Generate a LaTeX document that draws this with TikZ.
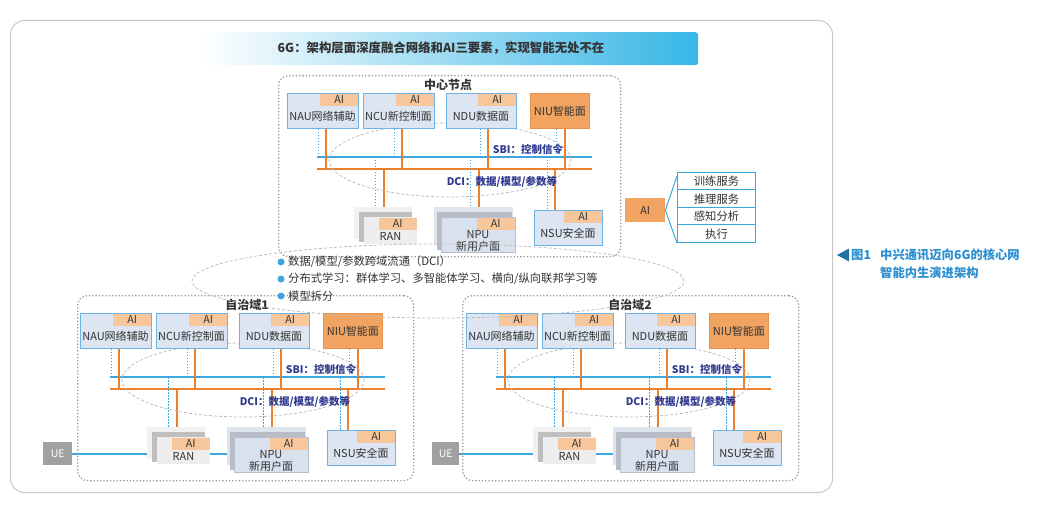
\documentclass[tikz,border=0pt]{standalone}
\usepackage{fontspec}
\setmainfont{Noto Sans CJK SC}
\usetikzlibrary{shapes.geometric}
\definecolor{boxfill}{HTML}{DCE5F1}
\definecolor{boxline}{HTML}{6DB3E3}
\definecolor{tagfill}{HTML}{F7C79B}
\definecolor{niufill}{HTML}{F1A461}
\definecolor{niuline}{HTML}{E8914A}
\definecolor{sbiblue}{HTML}{3CA7DF}
\definecolor{dciorange}{HTML}{E8802F}
\definecolor{navy}{HTML}{2F3A8F}
\definecolor{dotgray}{HTML}{9A9A9A}
\definecolor{ellgray}{HTML}{BDBDBD}
\definecolor{txt}{HTML}{333333}
\definecolor{capblue}{HTML}{2C8FCF}
\definecolor{bannerblue}{HTML}{38B6E6}
\definecolor{bannermid}{HTML}{CDEAF8}
\definecolor{framegray}{HTML}{C8C8C8}
\definecolor{ranback}{HTML}{F1F1F1}
\definecolor{ranmid}{HTML}{BFBFBF}
\definecolor{ranfront}{HTML}{EEEEEE}
\definecolor{npuback}{HTML}{DFE5EE}
\definecolor{npumid}{HTML}{B7BCC6}
\definecolor{npufront}{HTML}{D9E1EE}
\definecolor{uegray}{HTML}{A0A0A0}
\pgfdeclarelayer{bg}
\pgfsetlayers{bg,main}
\tikzset{
  box/.style={draw=boxline, fill=boxfill, line width=0.9pt, inner sep=0pt},
  ranfrontbox/.style={fill=ranfront, inner sep=0pt},
  ranbackbox/.style={fill=ranback, inner sep=0pt},
  ranmidbox/.style={fill=ranmid, inner sep=0pt},
  npufrontbox/.style={fill=npufront, draw=npufront!85!black, line width=0.4pt, inner sep=0pt},
  npubackbox/.style={fill=npuback, inner sep=0pt},
  npumidbox/.style={fill=npumid, inner sep=0pt},
  tag/.style={fill=tagfill, minimum width=38pt, minimum height=12pt, inner sep=0pt, font=\fontsize{10.8}{10.8}\selectfont, text=txt},
  niubox/.style={draw=niuline, fill=niufill, line width=0.8pt, inner sep=0pt, font=\fontsize{11}{12}\selectfont, text=txt},
  boxtxt/.style={font=\fontsize{11}{12}\selectfont, text=txt, inner sep=0pt, align=center},
  sbi/.style={draw=sbiblue, line width=2pt},
  dci/.style={draw=dciorange, line width=2.8pt},
  dashv/.style={draw=sbiblue, line width=0.9pt, dash pattern=on 1.5pt off 1.5pt},
  orv/.style={draw=dciorange, line width=1.5pt},
  ellip/.style={ellipse, draw=ellgray, line width=0.8pt, dash pattern=on 3pt off 2pt, inner sep=0pt},
  dotbox/.style={draw=dotgray, line width=1.3pt, dash pattern=on 1.3pt off 2pt, rounded corners=10pt, inner sep=0pt},
  buslabel/.style={font=\bfseries\fontsize{10.5}{12}\selectfont, text=navy, inner sep=0pt},
  dlabel/.style={font=\bfseries\fontsize{12}{14}\selectfont, text=txt, inner sep=0pt},
  ue/.style={fill=uegray, text=white, font=\fontsize{10.5}{12}\selectfont, inner sep=0pt},
  uel/.style={draw=sbiblue, line width=1.6pt},
  listbox/.style={draw=sbiblue, fill=white, line width=1pt, inner sep=0pt, font=\fontsize{11.3}{12}\selectfont, text=txt},
  aibig/.style={fill=niufill, inner sep=0pt, font=\fontsize{10.8}{12}\selectfont, text=txt},
  fan/.style={draw=sbiblue, line width=1pt},
  bultxt/.style={font=\fontsize{11.3}{13}\selectfont, text=txt, inner sep=0pt},
  buldot/.style={circle, fill=sbiblue, minimum size=7pt, inner sep=0pt},
  captxt/.style={font=\bfseries\fontsize{12.3}{14}\selectfont, text=capblue, inner sep=0pt},
}
% box with AI tag and text
\newcommand\mkbox[7]{%
  \node[#2, anchor=north west, minimum width=#5pt, minimum height=#6pt] (#1) at (#3,#4) {};
  \node[tag, anchor=north east] (#1ai) at ([xshift=-0.5pt,yshift=-0.5pt]#1.north east) {AI};
  \node[boxtxt] (#1txt) at ([xshift=#5pt/2, yshift={-(12+#6)/2}]#1.north west) {#7};
}
\newcommand\uplink[4]{%
  \coordinate (#2x#3) at ([xshift=#3pt]#2.south west);
  \draw[#1] (#2x#3) -- (#2x#3 |- #4);}
\newcommand\downlink[4]{%
  \coordinate (#2x#3) at ([xshift=#3pt]#2.north west);
  \draw[#1] (#2x#3 |- #4) -- (#2x#3);}
\newcommand\netunit[3]{%
\begin{scope}[shift={(#2,#3)}]
  \node[ellip, minimum width=242pt, minimum height=74pt] (#1ell) at (243,380) {};
  \mkbox{#1nau}{box}{80}{313}{71}{35}{NAU网络辅助}
  \mkbox{#1ncu}{box}{156}{313}{71}{35}{NCU新控制面}
  \mkbox{#1ndu}{box}{239}{313}{70}{35}{NDU数据面}
  \node[niubox, anchor=north west, minimum width=59pt, minimum height=35pt] (#1niu) at (323,313) {NIU智能面};
  \node[ranbackbox, anchor=north west, minimum width=58pt, minimum height=32pt] (#1ranb) at (147,427) {};
  \node[ranmidbox, anchor=north west, minimum width=53pt, minimum height=30pt] (#1ranm) at (152,432) {};
  \mkbox{#1ran}{ranfrontbox}{157}{437}{53}{27}{RAN}
  \node[npubackbox, anchor=north west, minimum width=79pt, minimum height=38pt] (#1npub) at (227,427) {};
  \node[npumidbox, anchor=north west, minimum width=75pt, minimum height=38pt] (#1npum) at (230,432) {};
  \mkbox{#1npu}{npufrontbox}{234}{437}{74}{35}{NPU\\新用户面}
  \mkbox{#1nsu}{box}{327}{430}{68}{35}{NSU安全面}
  \coordinate (#1sbiL) at (110,377);
  \coordinate (#1sbiR) at (385,377);
  \coordinate (#1dciL) at (110,389);
  \coordinate (#1dciR) at (385,389);
  \node[buslabel] (#1sbit) at (321,369) {SBI：控制信令};
  \node[buslabel] (#1dcit) at (295,402) {DCI：数据/模型/参数等};
  \begin{pgfonlayer}{bg}
    \draw[sbi] (#1sbiL) -- (#1sbiR);
    \draw[dci] (#1dciL) -- (#1dciR);
    \uplink{dashv}{#1nau}{31}{#1sbiL}
    \uplink{orv}{#1nau}{39}{#1dciL}
    \uplink{dashv}{#1ncu}{31}{#1sbiL}
    \uplink{orv}{#1ncu}{39}{#1dciL}
    \uplink{dashv}{#1ndu}{34}{#1sbiL}
    \uplink{orv}{#1ndu}{42}{#1dciL}
    \uplink{dashv}{#1niu}{26}{#1sbiL}
    \uplink{orv}{#1niu}{35}{#1dciL}
    \downlink{dashv}{#1ranb}{21}{#1sbiL}
    \downlink{orv}{#1ranb}{30}{#1dciL}
    \downlink{dashv}{#1npub}{36}{#1sbiL}
    \downlink{orv}{#1npub}{45}{#1dciL}
    \downlink{dashv}{#1nsu}{13}{#1sbiL}
    \downlink{orv}{#1nsu}{21}{#1dciL}
  \end{pgfonlayer}
\end{scope}}
\begin{document}
\begin{tikzpicture}[x=1pt,y=-1pt]
\useasboundingbox (0,0) rectangle (1044,505);
\node[draw=framegray, line width=1pt, rounded corners=14pt, anchor=north west, minimum width=822pt, minimum height=472pt, inner sep=0pt] (frame) at (10,20) {};
% banner
\node[anchor=north west, minimum width=498pt, minimum height=33pt, inner sep=0pt, rounded corners=3pt, left color=white, middle color=bannermid, right color=bannerblue] (banner) at (200,32) {};
\node[font=\bfseries\fontsize{12.4}{14}\selectfont, text=txt, inner sep=0pt] (bannertxt) at (441,48) {6G：架构层面深度融合网络和AI三要素，实现智能无处不在};
% dotted containers
\node[dotbox, anchor=north west, minimum width=342pt, minimum height=181pt] (ctrbox) at (278,75) {};
\node[dotbox, anchor=north west, minimum width=336pt, minimum height=185pt] (d1box) at (77,295) {};
\node[dotbox, anchor=north west, minimum width=336pt, minimum height=185pt] (d2box) at (462,295) {};
\node[dlabel] (ctrlabel) at (448,85) {中心节点};
\node[dlabel] (d1label) at (247,305) {自治域1};
\node[dlabel] (d2label) at (630,305) {自治域2};
% units
\netunit{c}{207}{-220}
\netunit{a}{0}{0}
\netunit{b}{386}{0}
% UE
\node[ue, anchor=north west, minimum width=29pt, minimum height=23pt] (aue) at (43,442) {UE};
\node[ue, anchor=north west, minimum width=27pt, minimum height=23pt] (bue) at (432,442) {UE};
\begin{pgfonlayer}{bg}
  \draw[uel] (aue.east) -- (aranb.west |- aue.east);
  \draw[uel] (aran.east |- aue.east) -- (anpub.west |- aue.east);
  \draw[uel] (bue.east) -- (branb.west |- bue.east);
  \draw[uel] (bran.east |- bue.east) -- (bnpub.west |- bue.east);
\end{pgfonlayer}
% big ellipse
\node[ellip, minimum width=492pt, minimum height=74pt] (bigell) at (438,281) {};
\node[buldot] (b1d) at (281,262) {};
\node[buldot] (b2d) at (281,279) {};
\node[buldot] (b3d) at (281,296) {};
\node[bultxt, anchor=west] (b1) at (288,262) {数据/模型/参数跨域流通（DCI）};
\node[bultxt, anchor=west] (b2) at (288,279) {分布式学习：群体学习、多智能体学习、横向/纵向联邦学习等};
\node[bultxt, anchor=west] (b3) at (288,296) {模型拆分};
% right AI panel
\node[aibig, anchor=north west, minimum width=40pt, minimum height=24pt] (aib) at (625,198) {AI};
\node[listbox, anchor=north west, minimum width=78pt, minimum height=17.5pt] (l1) at (677,172) {训练服务};
\node[listbox, anchor=north west, minimum width=78pt, minimum height=17.5pt] (l2) at (677,189.5) {推理服务};
\node[listbox, anchor=north west, minimum width=78pt, minimum height=17.5pt] (l3) at (677,207) {感知分析};
\node[listbox, anchor=north west, minimum width=78pt, minimum height=17.5pt] (l4) at (677,224.5) {执行};
\draw[fan] (aib.east) -- ([yshift=-4pt]l1.north west);
\draw[fan] (aib.east) -- (l4.south west);
% caption
\fill[capblue!80!black] (837,255) -- (849,248.5) -- (849,261.5) -- cycle;
\node[captxt, anchor=west] (cap1) at (851,255) {图1};
\node[captxt, anchor=west] (cap2) at (880,255) {中兴通讯迈向6G的核心网};
\node[captxt, anchor=west] (cap3) at (880,273) {智能内生演进架构};
\end{tikzpicture}
\end{document}
